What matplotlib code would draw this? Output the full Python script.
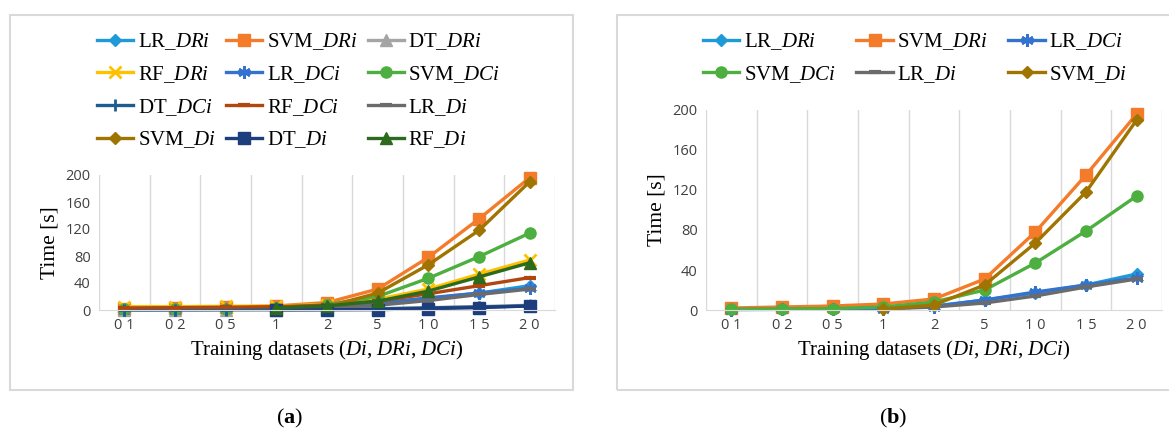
import numpy as np
import matplotlib
matplotlib.use("Agg")
import matplotlib.pyplot as plt
from matplotlib.patches import Rectangle

plt.rcParams['font.family'] = 'Liberation Serif'
plt.rcParams['mathtext.fontset'] = 'custom'
plt.rcParams['mathtext.rm'] = 'Liberation Serif'
plt.rcParams['mathtext.it'] = 'Liberation Serif:italic'
plt.rcParams['mathtext.bf'] = 'Liberation Serif:bold'

nan = np.nan

# training dataset sizes (x axis)
categories = ['0 1', '0 2', '0 5', '1', '2', '5', '1 0', '1 5', '2 0']
y_ticks = [0, 40, 80, 120, 160, 200]

# training time [s] per model / dataset
lr_dri = [0.5, 0.7, 1.0, 2.0, 4.0, 10, 17, 25, 36]
svm_dri = [2.0, 3.0, 4.0, 6.0, 11, 31, 78, 135, 196]
dt_dri = [0.2, 0.3, 0.4, 0.6, 1.0, 2.0, 3.5, 5.0, 7.0]
rf_dri = [5.0, 5.0, 5.5, 6.0, 8.0, 16, 31, 53, 74]
lr_dci = [0.5, 0.6, 0.8, 1.5, 3.5, 10, 18, 25, 32]
svm_dci = [0.8, 1.0, 1.5, 3.0, 8.0, 20, 47, 79, 114]
dt_dci = [0.2, 0.3, 0.4, 0.5, 0.8, 1.5, 3.0, 4.5, 6.0]
rf_dci = [3.0, 3.5, 4.0, 5.0, 7.0, 13, 24, 36, 48]
lr_di = [nan, nan, nan, 1.0, 3.0, 7.0, 14, 23, 31]
svm_di = [nan, nan, nan, 1.0, 5.0, 25, 67, 118, 190]
dt_di = [nan, nan, nan, 0.2, 0.3, 0.5, 2.0, 3.5, 6.0]
rf_di = [nan, nan, nan, 3.0, 6.0, 13, 28, 49, 70]

# name, values, colour, marker, marker size
series_a = [
    ("LR", "DRi", lr_dri, '#1E9AD9', 'D', 6),
    ("SVM", "DRi", svm_dri, '#F47B2A', 's', 8),
    ("DT", "DRi", dt_dri, '#A5A5A5', '^', 8),
    ("RF", "DRi", rf_dri, '#FFC000', 'x', 8),
    ("LR", "DCi", lr_dci, '#3373CF', (6, 2, 0), 9),
    ("SVM", "DCi", svm_dci, '#4CAF3F', 'o', 8),
    ("DT", "DCi", dt_dci, '#1F5C8E', '+', 9),
    ("RF", "DCi", rf_dci, '#B1460E', '_', 9),
    ("LR", "Di", lr_di, '#6B6B6B', '_', 9),
    ("SVM", "Di", svm_di, '#A07400', 'D', 6),
    ("DT", "Di", dt_di, '#1D3E7D', 's', 8),
    ("RF", "Di", rf_di, '#2C6A1E', '^', 8),
]
keep_b = ["LR_DRi", "SVM_DRi", "LR_DCi", "SVM_DCi", "LR_Di", "SVM_Di"]
series_b = [s for s in series_a if f"{s[0]}_{s[1]}" in keep_b]

W, H = 1169, 432
fig = plt.figure(figsize=(W / 100, H / 100), dpi=100)


def px_rect(x0, y0, x1, y1):
    """pixel box (top-left origin) -> figure fraction rect"""
    return [x0 / W, 1 - y1 / H, (x1 - x0) / W, (y1 - y0) / H]


def draw_panel(box, ax_box, series, legend_left, legend_top, tag, tag_x, colsp):
    fig.patches.append(Rectangle(box[:2], box[2], box[3], transform=fig.transFigure,
                                 fill=False, edgecolor='#D9D9D9', lw=1.5))
    ax = fig.add_axes(ax_box)
    x = np.arange(len(categories))
    for model, ds, vals, color, marker, ms in series:
        mew = 2 if marker in ('x', '+', (6, 2, 0)) else 1
        if marker == '_':
            mew = 3
        ax.plot(x, vals, color=color, lw=2.4, marker=marker, ms=ms, mew=mew,
                mec=color, mfc=color, clip_on=False,
                label=f"{model}_$\\mathit{{{ds}}}$")
    ax.set_xlim(-0.5, len(categories) - 0.5)
    ax.set_ylim(0, 200)
    ax.set_yticks(y_ticks)
    ax.set_xticks(x)
    ax.set_xticklabels(categories)
    ax.set_xticks(np.arange(-0.5, len(categories)), minor=True)
    ax.grid(which='minor', axis='x', color='#D9D9D9', lw=1)
    ax.tick_params(which='both', length=0)
    ax.tick_params(axis='both', labelsize=10.5, colors='#404040', pad=6)
    for lab in ax.get_xticklabels() + ax.get_yticklabels():
        lab.set_fontfamily('Open Sans')
    for side in ['top', 'right', 'left']:
        ax.spines[side].set_visible(False)
    ax.spines['bottom'].set_color('#D9D9D9')
    ax.set_ylabel('Time [s]', fontsize=15.5, labelpad=4)
    ax.set_xlabel('Training datasets ($\\mathit{Di}$, $\\mathit{DRi}$, $\\mathit{DCi}$)',
                  fontsize=15, labelpad=3)

    # legend is filled row by row, matplotlib fills columns -> reorder
    handles, labels = ax.get_legend_handles_labels()
    ncol = 3
    nrow = len(handles) // ncol
    order = [r * ncol + c for c in range(ncol) for r in range(nrow)]
    ax.legend([handles[i] for i in order], [labels[i] for i in order],
              loc='upper left', bbox_to_anchor=(legend_left / W, 1 - legend_top / H),
              bbox_transform=fig.transFigure, ncol=ncol, frameon=False, fontsize=15,
              handlelength=1.75, handletextpad=0.2, columnspacing=colsp,
              labelspacing=0.58, borderpad=0, borderaxespad=0)
    fig.text(tag_x / W, 1 - 418 / H, tag, ha='center', va='center', fontsize=16)
    return ax


draw_panel(px_rect(10, 15, 573, 390), px_rect(99, 175, 555, 310), series_a,
           97, 31, '($\\mathbf{a}$)', 290, 0.5)
draw_panel(px_rect(617, 15, 1180, 390), px_rect(706, 110, 1162, 310), series_b,
           703, 31, '($\\mathbf{b}$)', 893, 1.0)

fig.savefig('out.png', dpi=100)
